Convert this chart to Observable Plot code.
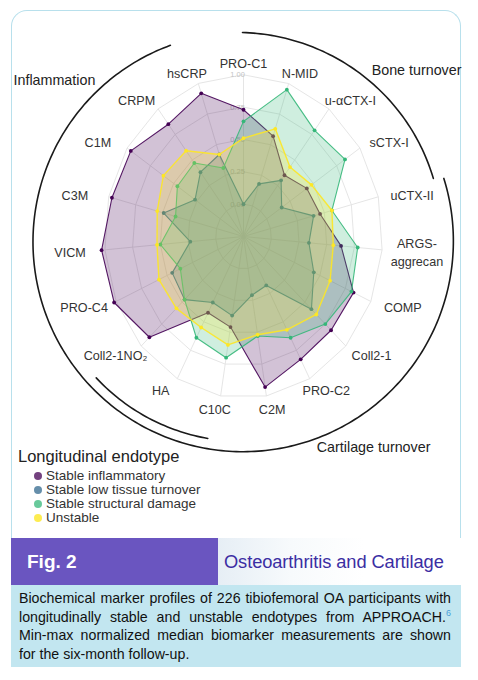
<!DOCTYPE html>
<html>
<head>
<meta charset="utf-8">
<script src="https://cdn.jsdelivr.net/npm/d3@7"></script>
<script src="https://cdn.jsdelivr.net/npm/@observablehq/plot@0.6"></script>
<style>
  html, body { margin: 0; padding: 0; background: #fff; }
  body { font-family: "Liberation Sans", Arial, Helvetica, sans-serif; color: #222; }
  #page { position: relative; width: 478px; height: 680px; overflow: hidden; }
  #frame { position: absolute; left: 11px; top: 10px; width: 448px; height: 528px;
           border: 1.5px solid #b8e0ec; border-bottom: none; border-radius: 16px 16px 0 0; }
  #chart { position: absolute; left: 0; top: 0; }
  #legend { position: absolute; left: 18px; top: 446px; }
  #legend .title { font-size: 16.5px; color: #222; line-height: 20px; margin-bottom: 3px; }
  #legend .item { position: relative; font-size: 13.5px; line-height: 13.9px; padding-left: 28px; color: #333; }
  #legend .dot { position: absolute; left: 16px; top: 3px; width: 8px; height: 8px; border-radius: 50%; }
  #banner { position: absolute; left: 11px; top: 538px; width: 450px; height: 47px; display: flex; }
  #banner .fig { width: 207px; background: #6a55c0; color: #fff; font-weight: bold; font-size: 19px;
                 line-height: 47px; padding-left: 16px; box-sizing: border-box; }
  #banner .journal { flex: 1; background: linear-gradient(90deg, #e6eef5 0%, #f7fafc 30%, #ffffff 60%);
                     color: #3b2ea3; font-size: 18.3px; line-height: 47px; padding-left: 6px; white-space: nowrap; letter-spacing: -0.1px; }
  #caption { position: absolute; left: 11px; top: 585px; width: 450px; height: 82px; background: #c2e6f0;
             box-sizing: border-box; padding: 4px 0 0 8px; }
  #caption .ln { width: 432px; font-size: 14.2px; line-height: 18.7px; white-space: nowrap; color: #111;
                 text-align: justify; text-align-last: justify; }
  #caption .ln.last { text-align: left; text-align-last: left; }
  #caption sup { color: #4a9fd8; font-size: 9px; line-height: 0; }
</style>
</head>
<body>
<div id="page">
  <div id="frame"></div>
  <div id="chart"></div>
  <div id="legend"></div>
  <div id="banner"><div class="fig">Fig. 2</div><div class="journal">Osteoarthritis and Cartilage</div></div>
  <div id="caption">
    <div class="ln">Biochemical marker profiles of 226 tibiofemoral OA participants with</div>
    <div class="ln">longitudinally stable and unstable endotypes from APPROACH.<sup>6</sup></div>
    <div class="ln">Min-max normalized median biomarker measurements are shown</div>
    <div class="ln last">for the six-month follow-up.</div>
  </div>
</div>
<script>
// ---------- data ----------
const axes = ["PRO-C1", "N-MID", "u-\u03B1CTX-I", "sCTX-I", "uCTX-II", "ARGS-\naggrecan", "COMP", "Coll2-1",
              "PRO-C2", "C2M", "C10C", "HA", "Coll2-1NO\u2082", "PRO-C4", "VICM", "C3M", "C1M", "CRPM", "hsCRP"];
const seriesNames = ["Stable inflammatory", "Stable low tissue turnover", "Stable structural damage", "Unstable"];
const seriesColors = ["#440154", "#31688E", "#35B779", "#FDE725"];

const stableInflammatory = [0.73, 0.57, 0.35, 0.43, 0.46, 0.63, 0.83, 0.82, 0.83, 0.93, 0.46, 0.42, 0.90, 1.02, 1.03, 0.97, 0.96, 0.85, 0.92];
const stableLowTurnover  = [0.00, 0.18, 0.30, 0.16, 0.40, 0.34, 0.44, 0.58, 0.18, 0.21, 0.37, 0.33, 0.47, 0.45, 0.23, 0.49, 0.27, 0.38, 0.42];
const stableStructural   = [0.64, 0.95, 0.79, 0.84, 0.57, 0.78, 0.81, 0.75, 0.64, 0.53, 0.70, 0.64, 0.47, 0.37, 0.50, 0.38, 0.46, 0.47, 0.31];
const unstable           = [0.51, 0.63, 0.43, 0.48, 0.57, 0.56, 0.60, 0.64, 0.57, 0.52, 0.60, 0.55, 0.57, 0.58, 0.53, 0.55, 0.61, 0.59, 0.42];

const gridTicks = [0, 0.25, 0.5, 0.75, 1];
const gridTickLabels = ["0.00", "0.25", "0.50", "0.75", "1.00"];
const categories = ["Inflammation", "Bone turnover", "Cartilage turnover"];

// ---------- layout ----------
const L = {
  cx: 243, cy: 236, unit: 161.7, squeeze: 0.86, rMin: -0.25, labelR: 1.076,
  circleOffset: [-1, 5],
  arcs: [ {a0: 0, a1: 71.7, r0: 209, r1: 201}, {a0: 72.6, a1: 339.8, r0: 211, r1: 209}, {a0: 190, a1: 227, r0: 200, r1: 200} ],
  catPos: [ {a: 309.5, r: 245}, {a: 46.2, r: 239.8}, {a: 148.3, r: 247.6} ]
};

const N = axes.length;
const rad = d => d * Math.PI / 180;
const ang = i => 2 * Math.PI * i / N;
const rho = v => (v - L.rMin) / (1 - L.rMin);
const px = (i, v) => L.squeeze * rho(v) * Math.sin(ang(i));
const py = (i, v) => rho(v) * Math.cos(ang(i));

const seriesValues = [stableInflammatory, stableLowTurnover, stableStructural, unstable];

// grid
const ringPts = gridTicks.flatMap(t => axes.map((a, i) => ({t, x: px(i, t), y: py(i, t)})));
const spokes = axes.map((a, i) => ({x1: 0, y1: 0, x2: px(i, 1), y2: py(i, 1)}));

// decorative arcs
const arcPts = L.arcs.flatMap((arc, k) => {
  const n = Math.max(2, Math.round(Math.abs(arc.a1 - arc.a0)));
  return d3.range(n + 1).map(j => {
    const f = j / n, a = rad(arc.a0 + (arc.a1 - arc.a0) * f), r = arc.r0 + (arc.r1 - arc.r0) * f;
    return {k, x: (L.circleOffset[0] + r * Math.sin(a)) / L.unit, y: (-L.circleOffset[1] + r * Math.cos(a)) / L.unit};
  });
});

const marks = [
  Plot.line(ringPts, {x: "x", y: "y", z: "t", curve: "linear-closed", stroke: "#e2e2e2", strokeWidth: 0.9}),
  Plot.link(spokes, {x1: "x1", y1: "y1", x2: "x2", y2: "y2", stroke: "#e2e2e2", strokeWidth: 0.9}),
  Plot.text(gridTicks, {x: 0, y: t => rho(t), text: (t, i) => gridTickLabels[i], dx: -6, fontSize: 7.5, fill: "#c4c4c4"})
];

seriesValues.forEach((vals, s) => {
  const rows = vals.map((v, i) => ({x: px(i, v), y: py(i, v)}));
  marks.push(Plot.line(rows, {x: "x", y: "y", curve: "linear-closed", fill: seriesColors[s], fillOpacity: 0.24,
                             stroke: seriesColors[s], strokeWidth: s === 3 ? 1.4 : 1.1, strokeOpacity: 0.9}));
  marks.push(Plot.dot(rows, {x: "x", y: "y", r: 1.9, fill: seriesColors[s], stroke: "none"}));
});

marks.push(
  Plot.text(axes, {x: (a, i) => L.labelR * Math.sin(ang(i)), y: (a, i) => L.labelR * Math.cos(ang(i)),
                   text: d => d, fontSize: 12.6, fill: "#333", lineHeight: 1.45}),
  Plot.line(arcPts, {x: "x", y: "y", z: "k", stroke: "#1a1a1a", strokeWidth: 1.6}),
  Plot.text(categories, {x: (c, i) => L.catPos[i].r * Math.sin(rad(L.catPos[i].a)) / L.unit,
                         y: (c, i) => L.catPos[i].r * Math.cos(rad(L.catPos[i].a)) / L.unit,
                         text: d => d, fontSize: 14.3, fill: "#222"})
);

const chart = Plot.plot({
  width: 478, height: 460,
  margin: 0,
  x: {domain: [-1, 1], range: [L.cx - L.unit, L.cx + L.unit], axis: null},
  y: {domain: [-1, 1], range: [L.cy + L.unit, L.cy - L.unit], axis: null},
  style: {background: "transparent", overflow: "visible", fontFamily: "'Liberation Sans', Arial, Helvetica, sans-serif"},
  marks
});
document.getElementById("chart").appendChild(chart);

// legend (HTML) from series arrays
const lg = d3.select("#legend");
lg.append("div").attr("class", "title").text("Longitudinal endotype");
seriesNames.forEach((name, s) => {
  const it = lg.append("div").attr("class", "item");
  it.append("span").attr("class", "dot").style("background", seriesColors[s]).style("opacity", s === 3 ? 0.8 : 0.75);
  it.append("span").text(name);
});
</script>
</body>
</html>
